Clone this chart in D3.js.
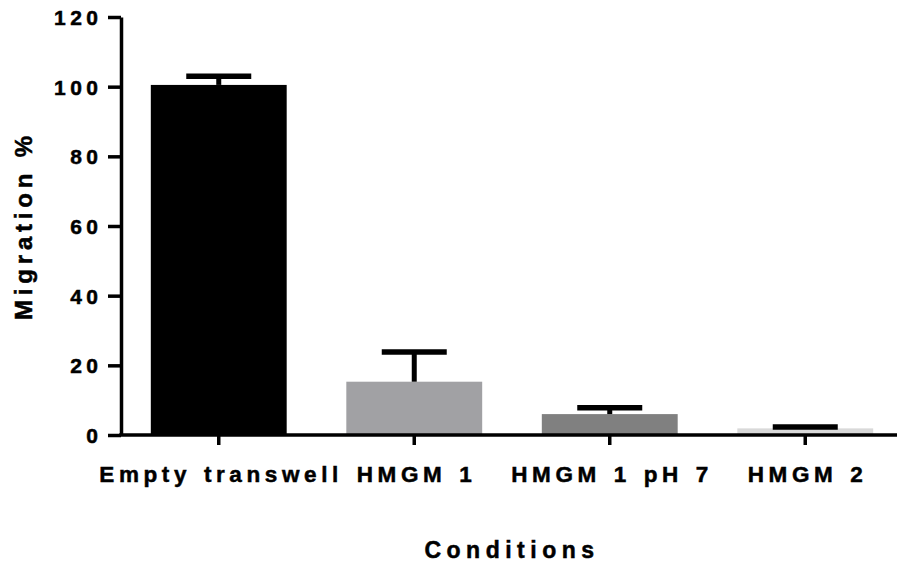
<!DOCTYPE html>
<html>
<head>
  <meta charset="utf-8">
  <title>Migration %</title>
  <script src="https://d3js.org/d3.v7.min.js"></script>
  <style>
    body { margin: 0; background: #fff; }
    text { font-family: "Liberation Sans", Arial, sans-serif; font-weight: bold; fill: #000; stroke: #000; stroke-width: 0.5px; }
    .axis path, .axis line { stroke: #000; stroke-width: 3.5px; fill: none; }
  </style>
</head>
<body>
  <script>
    var categories = ["Empty transwell", "HMGM 1", "HMGM 1 pH 7", "HMGM 2"];
    var means = [100.5, 15.3, 6.0, 1.9];
    var errors = [2.5, 8.5, 1.8, 0.4];
    var colors = ["#000000", "#a1a1a4", "#808080", "#d9d9d9"];
    var yTicks = [0, 20, 40, 60, 80, 100, 120];

    var width = 897, height = 565;
    var plotLeft = 121, plotRight = 903, plotTop = 17, plotBottom = 435;

    var svg = d3.select("body").append("svg")
        .attr("width", width)
        .attr("height", height);

    var x = d3.scaleBand()
        .domain(categories)
        .range([plotLeft, plotRight])
        .paddingInner(0.305)
        .paddingOuter(0.1525);

    var y = d3.scaleLinear()
        .domain([0, 120])
        .range([plotBottom, plotTop]);

    // bars
    svg.selectAll(".bar")
        .data(categories)
      .enter().append("rect")
        .attr("class", "bar")
        .attr("x", function(d) { return x(d); })
        .attr("width", x.bandwidth())
        .attr("y", function(d, i) { return y(means[i]); })
        .attr("height", function(d, i) { return y(0) - y(means[i]); })
        .attr("fill", function(d, i) { return colors[i]; });

    // error bars (upper only)
    var capW = 65;
    var err = svg.selectAll(".err")
        .data(categories)
      .enter().append("g")
        .attr("class", "err");

    err.append("line")
        .attr("x1", function(d) { return x(d) + x.bandwidth() / 2; })
        .attr("x2", function(d) { return x(d) + x.bandwidth() / 2; })
        .attr("y1", function(d, i) { return y(means[i]); })
        .attr("y2", function(d, i) { return y(means[i] + errors[i]); })
        .attr("stroke", "#000")
        .attr("stroke-width", 5);

    err.append("line")
        .attr("x1", function(d) { return x(d) + x.bandwidth() / 2 - capW / 2; })
        .attr("x2", function(d) { return x(d) + x.bandwidth() / 2 + capW / 2; })
        .attr("y1", function(d, i) { return y(means[i] + errors[i]); })
        .attr("y2", function(d, i) { return y(means[i] + errors[i]); })
        .attr("stroke", "#000")
        .attr("stroke-width", 5.5);

    // y axis
    var yAxis = svg.append("g")
        .attr("class", "axis")
        .attr("transform", "translate(" + plotLeft + ",0)")
        .call(d3.axisLeft(y).tickValues(yTicks).tickSize(13).tickSizeOuter(0).tickPadding(10));

    yAxis.selectAll("text")
        .style("font-size", "21px")
        .style("letter-spacing", "4.5px")
        .attr("dx", "4.5px")
        .attr("dy", "0.36em");

    // x axis
    var xAxis = svg.append("g")
        .attr("class", "axis")
        .attr("transform", "translate(0," + plotBottom + ")")
        .call(d3.axisBottom(x).tickSize(10).tickSizeOuter(0).tickPadding(21));

    xAxis.select(".domain").attr("d", "M" + (plotLeft - 1.75) + ",0H" + width);

    xAxis.selectAll("text")
        .style("font-size", "22.5px")
        .style("letter-spacing", "4.6px")
        .style("word-spacing", "2px")
        .attr("dx", "2.3px");

    // axis titles
    svg.append("text")
        .attr("transform", "translate(32," + 228 + ") rotate(-90)")
        .attr("text-anchor", "middle")
        .attr("dx", "2.4px")
        .style("font-size", "24px")
        .style("letter-spacing", "4.8px")
        .text("Migration %");

    svg.append("text")
        .attr("x", (plotLeft + width) / 2 + 3)
        .attr("y", 558)
        .attr("text-anchor", "middle")
        .style("font-size", "23px")
        .style("letter-spacing", "5.5px")
        .text("Conditions");
  </script>
</body>
</html>
